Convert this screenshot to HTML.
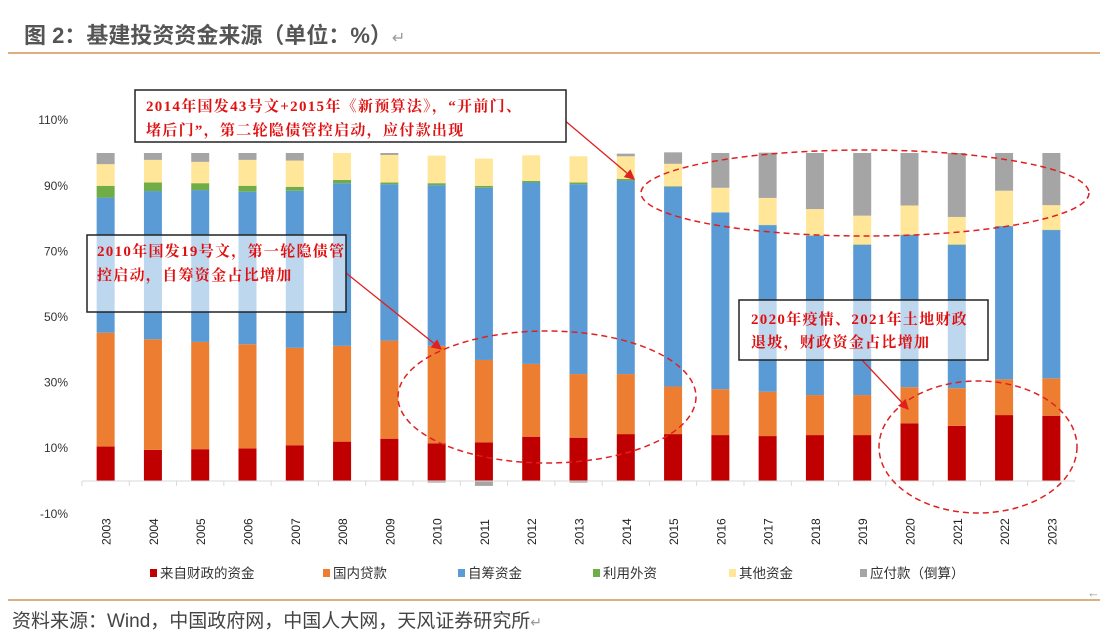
<!DOCTYPE html>
<html><head><meta charset="utf-8">
<style>
body{margin:0;background:#fff;width:1108px;height:636px;overflow:hidden;font-family:"Liberation Sans","Noto Sans CJK SC",sans-serif}
svg{position:absolute;left:0;top:0}
.ann{font-size:15px;font-weight:bold;fill:#e01010;font-family:"Liberation Serif","Noto Serif CJK SC",serif;letter-spacing:1.3px}
</style></head><body>
<svg width="1108" height="636">
<text x="24" y="43" font-size="22" font-weight="bold" fill="#555" font-family="Liberation Sans,Noto Sans CJK SC,sans-serif">图 2：基建投资资金来源（单位：%）<tspan fill="#999" font-weight="normal" font-size="16">↵</tspan></text>
<line x1="8" y1="53" x2="1100" y2="53" stroke="#d4935a" stroke-width="1.5"/>
<g id="yaxis"></g>
<g id="bars"></g>
<g id="xaxis"></g>
<g id="legend"></g>
<g fill="none" stroke="#e02020" stroke-width="1.5" stroke-dasharray="6,4">
<ellipse cx="865" cy="193" rx="224" ry="43"/>
<ellipse cx="547" cy="397" rx="149" ry="66"/>
<ellipse cx="978" cy="447" rx="99" ry="66"/>
</g>
<defs><marker id="ah" markerWidth="8" markerHeight="8" refX="7" refY="4" orient="auto"><path d="M0,0 L8,4 L0,8 z" fill="#e02020"/></marker></defs>
<g stroke="#e02020" stroke-width="1.3" marker-end="url(#ah)">
<line x1="563" y1="119" x2="634" y2="179"/>
<line x1="346" y1="273" x2="441" y2="349"/>
<line x1="862" y1="360" x2="908" y2="409"/>
</g>
<g>
<rect x="135" y="90" width="431" height="52" fill="rgba(255,255,255,0.95)" stroke="#222" stroke-width="1.5"/>
<text x="146" y="111" class="ann">2014年国发43号文+2015年《新预算法》，“开前门、</text>
<text x="146" y="135" class="ann">堵后门”，第二轮隐债管控启动，应付款出现</text>
</g>
<g>
<rect x="87" y="235" width="259" height="77" fill="rgba(255,255,255,0.6)" stroke="#222" stroke-width="1.5"/>
<text x="97" y="256" class="ann">2010年国发19号文，第一轮隐债管</text>
<text x="97" y="280" class="ann">控启动，自筹资金占比增加</text>
</g>
<g>
<rect x="739" y="300" width="249" height="60" fill="rgba(255,255,255,0.6)" stroke="#222" stroke-width="1.5"/>
<text x="751" y="324" class="ann">2020年疫情、2021年土地财政</text>
<text x="751" y="347" class="ann">退坡，财政资金占比增加</text>
</g>
<line x1="8" y1="600" x2="1100" y2="600" stroke="#d4935a" stroke-width="1.5"/>
<text x="1087" y="597" font-size="13" fill="#999">←</text>
<text x="12" y="627" font-size="19" fill="#444">资料来源：Wind，中国政府网，中国人大网，天风证券研究所<tspan fill="#999" font-size="14">↵</tspan></text>
</svg>
<script>
const years=["2003","2004","2005","2006","2007","2008","2009","2010","2011","2012","2013","2014","2015","2016","2017","2018","2019","2020","2021","2022","2023"];
const fiscal=[10.5,9.5,9.7,9.9,10.9,12.0,12.9,11.5,11.8,13.5,13.2,14.3,14.3,14.0,13.7,14.0,14.0,17.6,16.8,20.1,19.9];
const loans=[34.7,33.7,32.7,31.8,29.7,29.2,29.9,29.7,25.1,22.2,19.4,18.3,14.5,14.0,13.5,12.2,12.2,11.0,11.5,10.9,11.4];
const selfRaised=[41.2,45.2,46.3,46.5,47.9,49.6,47.7,49.0,52.5,55.3,57.9,59.0,60.9,53.9,50.8,48.6,45.8,46.4,43.7,46.7,45.2];
const foreign=[3.6,2.6,2.1,1.8,1.2,1.0,0.5,0.6,0.6,0.5,0.5,0.5,0.2,0.0,0.1,0.1,0.1,0.1,0.1,0.1,0.1];
const other=[6.6,6.9,6.5,7.9,8.0,8.2,8.4,8.4,8.3,7.8,8.0,6.9,6.8,7.5,8.2,8.0,8.8,8.9,8.4,10.7,7.5];
const payables=[3.4,2.1,2.7,2.1,2.3,0,0.6,-0.5,-1.5,0,-0.5,0.8,3.5,10.6,13.8,17.1,19.1,16.0,19.5,11.5,15.9];
const yTicks=[-10,10,30,50,70,90,110];
const seriesNames=["来自财政的资金","国内贷款","自筹资金","利用外资","其他资金","应付款（倒算）"];
const colors=["#c00000","#ed7d31","#5b9bd5","#70ad47","#ffe699","#a5a5a5"];
const NS="http://www.w3.org/2000/svg";
const x0=82,x1=1075,bw=18;
const step=(x1-x0)/years.length;
function xc(i){return x0+step*(i+0.5);}
function y(v){return 481-v*3.28;}
function mk(t,a,p){const e=document.createElementNS(NS,t);for(const k in a)e.setAttribute(k,a[k]);p.appendChild(e);return e;}
const ya=document.getElementById('yaxis');
yTicks.forEach(t=>{const e=mk('text',{x:68,y:y(t)+4,'text-anchor':'end','font-size':12,fill:'#333'},ya);e.textContent=t+'%';

});
const xa=document.getElementById('xaxis');
mk('line',{x1:x0,y1:y(0),x2:x1,y2:y(0),stroke:'#d9d9d9','stroke-width':1},xa);
const bg=document.getElementById('bars');
const data=[fiscal,loans,selfRaised,foreign,other,payables];
years.forEach((yr,i)=>{
 let acc=0;
 data.forEach((s,k)=>{
  const v=s[i];
  let top,bot;
  if(v>=0){bot=acc;top=acc+v;acc=top;}else{bot=v;top=0;}
  if(Math.abs(v)<0.01)return;
  const r=mk('rect',{x:xc(i)-bw/2,y:y(top),width:bw,height:y(bot)-y(top),fill:colors[k]},bg);
  
  
 });
 mk('line',{x1:x0+step*i,y1:y(0),x2:x0+step*i,y2:y(0)+5,stroke:'#d9d9d9'},xa);
 const t=mk('text',{transform:`translate(${xc(i)+5},${545}) rotate(-90)`,'font-size':12,fill:'#222'},xa);
 t.textContent=yr;
 
 
});
const lg=document.getElementById('legend');
const lx=[150,323,458,593,729,860];
seriesNames.forEach((n,k)=>{
 const g=mk('g',{},lg);
 
 
 mk('rect',{x:lx[k],y:569,width:7,height:8,fill:colors[k]},g);
 const t=mk('text',{x:lx[k]+10,y:578,'font-size':13.5,fill:'#333'},g);t.textContent=n;
});
</script>
</body></html>
